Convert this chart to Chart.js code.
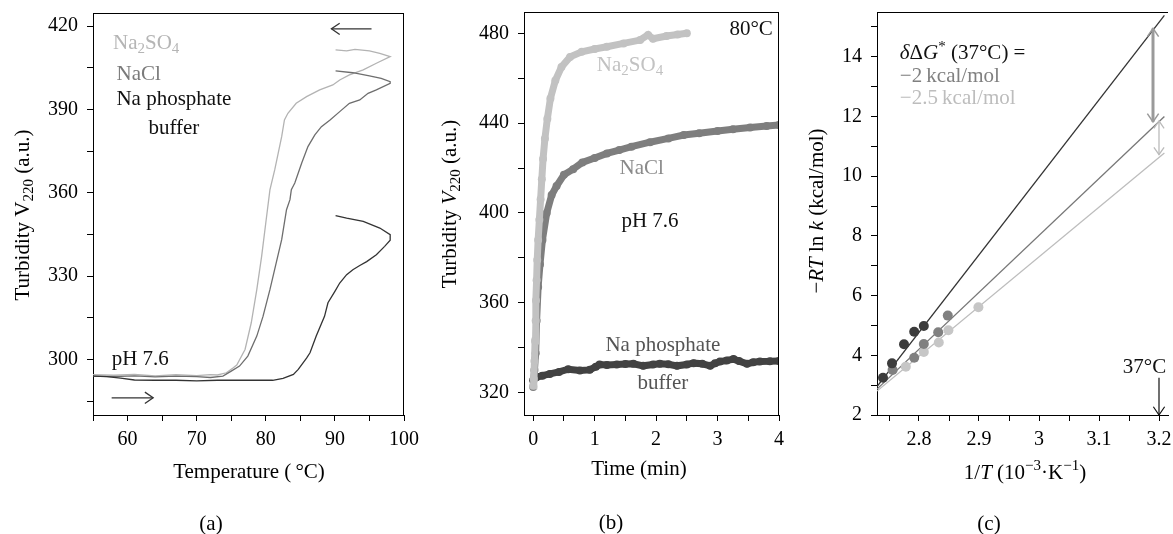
<!DOCTYPE html>
<html>
<head>
<meta charset="utf-8">
<script src="https://cdn.jsdelivr.net/npm/chart.js@4.4.1/dist/chart.umd.min.js"></script>
<style>
  body { margin: 0; background: #fff; width: 1173px; height: 534px; overflow: hidden; position: relative; }
  canvas { position: absolute; top: 0; }
  #chartA { left: 0; }
  #chartB { left: 420px; }
  #chartC { left: 790px; }
</style>
</head>
<body>
<canvas id="chartA" width="420" height="534"></canvas>
<canvas id="chartB" width="370" height="534"></canvas>
<canvas id="chartC" width="383" height="534"></canvas>
<script>
// -- (a) turbidity while heating to 98 C and cooling back
var tempSO4 = [55, 58, 61, 64, 67, 70, 72, 73, 74.3, 75.3, 75.8, 77.0, 77.9, 78.7, 79.4, 80.0, 80.6, 81.3, 81.8, 82.3, 82.7, 83.2, 84.4, 85.9, 87.8, 89.7, 90.7, 92.1, 94.1, 96.0, 98.0, 96.5, 95.0, 92.9, 91.7, 90.1];
var turbSO4 = [294.5, 294.3, 294.6, 294.1, 294.5, 294.2, 294.5, 294.4, 295.2, 297.0, 298.0, 303.6, 313.2, 325.1, 337.1, 349.1, 361.0, 368.3, 374.3, 380.2, 386.2, 388.6, 392.2, 394.6, 397.0, 398.8, 400.6, 402.4, 404.2, 406.6, 409.0, 410.2, 411.1, 411.6, 411.1, 411.4];

var tempCl = [55, 58, 61, 64, 67, 70, 72, 73.8, 75.0, 76.2, 77.4, 78.7, 79.6, 80.6, 81.5, 82.3, 83.0, 83.5, 83.7, 84.2, 85.2, 86.1, 87.1, 88.05, 89.3, 90.7, 92.1, 93.6, 94.8, 96.0, 98.0, 98.0, 96.7, 95.0, 92.6, 90.1];
var turbCl = [294.0, 293.8, 294.1, 293.7, 294.0, 293.8, 293.5, 294.0, 295.8, 297.6, 301.2, 308.4, 315.5, 325.1, 334.7, 343.1, 353.9, 357.5, 361.1, 363.5, 370.7, 376.6, 380.8, 383.8, 386.2, 389.2, 392.2, 393.4, 395.8, 397.0, 399.4, 400.0, 401.2, 402.1, 403.2, 403.9];

var tempPi = [55, 57, 59, 61, 64, 67, 70, 73, 76, 79, 81, 82.5, 84, 84.7, 85.9, 86.4, 87.3, 88.5, 89.0, 90.0, 90.7, 91.7, 92.6, 93.6, 94.6, 96.0, 97.2, 98.0, 98.0, 96.5, 94.1, 91.7, 90.1];
var turbPi = [294.0, 293.8, 293.3, 292.6, 292.5, 292.5, 292.3, 292.5, 292.5, 292.5, 292.5, 293.2, 294.6, 296.4, 300.5, 302.4, 308.4, 315.5, 320.4, 324.5, 327.5, 330.5, 332.3, 333.8, 335.2, 337.7, 340.7, 342.9, 344.9, 347.3, 349.7, 350.9, 351.8];

// -- (b) turbidity vs time at 80 C
var timeSO4 = [0.00, 0.01, 0.02, 0.03, 0.04, 0.045, 0.055, 0.065, 0.08, 0.10, 0.12, 0.14, 0.16, 0.19, 0.23, 0.28, 0.36, 0.46, 0.60, 0.79, 1.00, 1.20, 1.47, 1.74, 1.87, 1.95, 2.17, 2.35, 2.50];
var kinSO4 = [323, 326, 334, 343, 352, 361, 370, 379, 388, 397, 406, 415, 424, 433, 442, 451, 459, 465, 469.5, 471.8, 473, 474, 475.5, 477, 479.3, 477.6, 478.8, 479.5, 480];

var timeCl = [0.00, 0.02, 0.04, 0.055, 0.08, 0.11, 0.15, 0.22, 0.30, 0.38, 0.50, 0.65, 0.80, 1.00, 1.20, 1.40, 1.60, 1.90, 2.20, 2.45, 2.70, 3.00, 3.25, 3.53, 3.80, 4.00];
var kinCl = [322.5, 330, 337.5, 352, 367, 377, 388, 400, 408, 412, 417, 419.5, 422.5, 424.5, 426.5, 428, 429.5, 431.5, 433.2, 434.7, 435.5, 436.5, 437.3, 438.1, 438.7, 439.2];

var timePi = [0.00, 0.05, 0.15, 0.27, 0.42, 0.57, 0.76, 0.92, 1.02, 1.08, 1.20, 1.36, 1.50, 1.63, 1.79, 1.95, 2.06, 2.20, 2.34, 2.50, 2.61, 2.75, 2.88, 2.96, 3.04, 3.15, 3.26, 3.35, 3.48, 3.58, 3.69, 3.85, 4.00];
var kinPi = [325.5, 326.8, 327.5, 328.3, 329.2, 330.4, 329.8, 330.1, 331.5, 332.5, 332.3, 332.5, 332.7, 332.8, 331.9, 332.5, 332.8, 332.6, 331.9, 332.5, 333.1, 332.8, 331.9, 333.0, 333.8, 334.3, 334.9, 334.0, 332.8, 333.5, 333.8, 333.9, 334.1];

// -- (c) -RT ln k vs 1/T, with the fitted lines out to 37 C
var invTPi = [2.740, 2.755, 2.775, 2.792, 2.808];
var rtPi = [3.25, 3.73, 4.37, 4.79, 4.98];
var invTCl = [2.756, 2.792, 2.808, 2.832, 2.848];
var rtCl = [3.51, 3.92, 4.38, 4.77, 5.33];
var invTSO4 = [2.778, 2.808, 2.833, 2.849, 2.899];
var rtSO4 = [3.62, 4.11, 4.43, 4.84, 5.61];
var fitX = [2.73, 3.209];
var fitPi = [2.95, 15.39];
var fitCl = [2.87, 12.0];
var fitSO4 = [2.8, 10.78];

var FONT = "'Liberation Serif', 'Times New Roman', serif";
var SIZE = 20;     // tick labels
var TEXT = 21;     // titles and notes

function xy(xs, ys) {
  return xs.map(function (x, i) { return {x: x, y: ys[i]}; });
}

// parts: [text, style] where style has i = italic, b = subscript, p = superscript
function fontFor(st) {
  var sz = /[bp]/.test(st) ? 15 : TEXT;
  return (st.indexOf('i') >= 0 ? 'italic ' : '') + sz + 'px ' + FONT;
}
function drawRich(ctx, parts, x, y, align, color, rot) {
  ctx.save();
  ctx.translate(x, y);
  if (rot) ctx.rotate(rot);
  var w = 0;
  parts.forEach(function (p) { ctx.font = fontFor(p[1] || ''); w += ctx.measureText(p[0]).width; });
  var cx = align === 'left' ? 0 : align === 'right' ? -w : -w / 2;
  ctx.textBaseline = 'middle';
  ctx.textAlign = 'left';
  ctx.fillStyle = color;
  parts.forEach(function (p) {
    var st = p[1] || '';
    ctx.font = fontFor(st);
    var dy = st.indexOf('b') >= 0 ? 6 : st.indexOf('p') >= 0 ? -7 : 0;
    ctx.fillText(p[0], cx, dy);
    cx += ctx.measureText(p[0]).width;
  });
  ctx.restore();
}

function arrow(ctx, x1, y1, x2, y2, o) {
  ctx.strokeStyle = o.color;
  ctx.lineWidth = o.width;
  ctx.beginPath(); ctx.moveTo(x1, y1); ctx.lineTo(x2, y2); ctx.stroke();
  var heads = o.both ? [[x2, y2, x1, y1], [x1, y1, x2, y2]] : [[x1, y1, x2, y2]];
  ctx.lineWidth = o.headWidth || o.width;
  heads.forEach(function (h) {
    var ang = Math.atan2(h[3] - h[1], h[2] - h[0]), L = o.head || 9;
    ctx.beginPath();
    ctx.moveTo(h[2] - L * Math.cos(ang - 0.6), h[3] - L * Math.sin(ang - 0.6));
    ctx.lineTo(h[2], h[3]);
    ctx.lineTo(h[2] - L * Math.cos(ang + 0.6), h[3] - L * Math.sin(ang + 0.6));
    ctx.stroke();
  });
}

function decor(spec) {
  return {
    id: 'decor',
    afterDraw: function (chart) {
      var ctx = chart.ctx, a = chart.chartArea, sx = chart.scales.x, sy = chart.scales.y;
      ctx.save();
      ctx.strokeStyle = '#000';
      ctx.lineWidth = 1;
      ctx.beginPath();
      if (spec.frame.indexOf('top') >= 0) { ctx.moveTo(a.left, a.top + 0.5); ctx.lineTo(a.right, a.top + 0.5); }
      if (spec.frame.indexOf('right') >= 0) { ctx.moveTo(a.right - 0.5, a.top); ctx.lineTo(a.right - 0.5, a.bottom); }
      ctx.stroke();
      (spec.arrows || []).forEach(function (ar) {
        arrow(ctx, sx.getPixelForValue(ar.from[0]), sy.getPixelForValue(ar.from[1]),
          sx.getPixelForValue(ar.to[0]), sy.getPixelForValue(ar.to[1]), ar);
      });
      (spec.notes || []).forEach(function (n) {
        drawRich(ctx, n.parts, sx.getPixelForValue(n.at[0]), sy.getPixelForValue(n.at[1]), n.align, n.color, 0);
      });
      (spec.titles || []).forEach(function (t) {
        drawRich(ctx, t.parts, t.pos[0], t.pos[1], 'center', '#000', t.rot || 0);
      });
      ctx.restore();
    }
  };
}

function axis(min, max, step, label, size, horiz, pad) {
  return {
    type: 'linear', min: min, max: max,
    border: {display: true, color: '#000', width: 1},
    grid: {drawOnChartArea: false, drawTicks: true, tickLength: 6, color: '#000'},
    ticks: {
      stepSize: step, autoSkip: false, maxRotation: 0, includeBounds: false,
      padding: pad, color: '#000', font: {family: FONT, size: SIZE},
      callback: label
    },
    afterFit: function (s) {
      if (horiz) { s.height = size; s.paddingLeft = 0; s.paddingRight = 0; }
      else { s.width = size; s.paddingTop = 0; s.paddingBottom = 0; }
    }
  };
}

function options(xAxis, yAxis, top, right) {
  return {
    responsive: false, animation: false, events: [],
    layout: {padding: {left: 0, top: top, right: right, bottom: 0}},
    plugins: {legend: {display: false}, tooltip: {enabled: false}},
    scales: {x: xAxis, y: yAxis}
  };
}

function trace(xs, ys, color) {
  return {data: xy(xs, ys), showLine: true, borderColor: color, borderWidth: 1.3, pointRadius: 0, tension: 0};
}
function band(xs, ys, color) {
  return {data: xy(xs, ys), showLine: true, borderColor: color, borderWidth: 7, pointRadius: 4,
    pointBorderWidth: 0, pointBackgroundColor: color, tension: 0};
}
function dots(xs, ys, color) {
  return {data: xy(xs, ys), showLine: false, pointRadius: 5, pointBorderWidth: 0, pointBackgroundColor: color};
}

var sub = 'b', it = 'i', sup = 'p';
var turbTitle = function (italicV) {
  return [['Turbidity '], ['V', italicV ? it : ''], ['220', sub], [' (a.u.)']];
};

// (a)
new Chart(document.getElementById('chartA'), {
  type: 'scatter',
  data: {datasets: [
    trace(tempPi, turbPi, '#333333'),
    trace(tempCl, turbCl, '#6e6e6e'),
    trace(tempSO4, turbSO4, '#b3b3b3')
  ]},
  options: options(
    axis(55, 100, 5, function (v) { return v % 10 === 0 ? v : ''; }, 119, true, 7),
    axis(280, 424.7, 15, function (v) { return v % 30 === 0 ? v : ''; }, 93, false, 9),
    13, 16),
  plugins: [decor({
    frame: ['top', 'right'],
    arrows: [
      {from: [95.3, 419], to: [89.5, 419], color: '#333', width: 1.3, head: 10},
      {from: [57.7, 286.2], to: [63.7, 286.2], color: '#333', width: 1.3, head: 10}
    ],
    notes: [
      {at: [57.9, 413.9], parts: [['Na'], ['2', sub], ['SO'], ['4', sub]], align: 'left', color: '#b5b5b5'},
      {at: [58.4, 402.4], parts: [['NaCl']], align: 'left', color: '#7a7a7a'},
      {at: [66.7, 393.4], parts: [['Na phosphate']], align: 'center', color: '#111'},
      {at: [66.7, 383.3], parts: [['buffer']], align: 'center', color: '#111'},
      {at: [57.7, 300], parts: [['pH 7.6']], align: 'left', color: '#111'}
    ],
    titles: [
      {parts: turbTitle(false), pos: [23, 215], rot: -Math.PI / 2},
      {parts: [['Temperature (\u2009°C)']], pos: [249, 472]},
      {parts: [['(a)']], pos: [211, 524]}
    ]
  })]
});

// (b)
new Chart(document.getElementById('chartB'), {
  type: 'scatter',
  data: {datasets: [
    band(timeSO4, kinSO4, '#c2c2c2'),
    band(timeCl, kinCl, '#7e7e7e'),
    band(timePi, kinPi, '#424242')
  ]},
  options: options(
    axis(-0.15, 4, 0.5, function (v) { return Number.isInteger(v) ? v : ''; }, 119, true, 7),
    axis(310, 489.5, 20, function (v) { return v % 40 === 0 ? v : ''; }, 104, false, 9),
    12, 11),
  plugins: [decor({
    frame: ['top', 'right'],
    notes: [
      {at: [3.90, 481.5], parts: [['80°C']], align: 'right', color: '#111'},
      {at: [1.575, 465.9], parts: [['Na'], ['2', sub], ['SO'], ['4', sub]], align: 'center', color: '#c2c2c2'},
      {at: [1.765, 419.9], parts: [['NaCl']], align: 'center', color: '#8a8a8a'},
      {at: [1.90, 396.1], parts: [['pH 7.6']], align: 'center', color: '#111'},
      {at: [2.11, 340.8], parts: [['Na phosphate']], align: 'center', color: '#555'},
      {at: [2.11, 323.9], parts: [['buffer']], align: 'center', color: '#555'}
    ],
    titles: [
      {parts: turbTitle(true), pos: [30, 204], rot: -Math.PI / 2},
      {parts: [['Time (min)']], pos: [219, 469]},
      {parts: [['(b)']], pos: [191, 523]}
    ]
  })]
});

// (c)
new Chart(document.getElementById('chartC'), {
  type: 'scatter',
  data: {datasets: [
    dots(invTPi, rtPi, '#3c3c3c'),
    dots(invTCl, rtCl, '#808080'),
    dots(invTSO4, rtSO4, '#c6c6c6'),
    trace(fitX, fitPi, '#333333'),
    trace(fitX, fitCl, '#777777'),
    trace(fitX, fitSO4, '#bdbdbd')
  ]},
  options: options(
    axis(2.73, 3.215, 0.05, function (v) {
      return Math.round(v * 100) % 10 === 0 ? String(+v.toFixed(1)) : '';
    }, 119, true, 7),
    axis(2, 15.5, 1, function (v) { return v % 2 === 0 ? v : ''; }, 87, false, 9),
    12, 1),
  plugins: [decor({
    frame: ['top'],
    arrows: [
      {from: [3.19, 14.95], to: [3.19, 11.82], color: '#9a9a9a', width: 3, headWidth: 1.5, head: 10, both: true},
      {from: [3.2, 11.85], to: [3.2, 10.72], color: '#bbbbbb', width: 1.3, head: 9, both: true},
      {from: [3.2, 3.25], to: [3.2, 2.0], color: '#111', width: 1.2, head: 10}
    ],
    notes: [
      {at: [2.768, 14.1], parts: [['δ', it], ['Δ'], ['G', it], ['*', sup], [' (37°C) =']], align: 'left', color: '#111'},
      {at: [2.768, 13.35], parts: [['−2\u2009kcal/mol']], align: 'left', color: '#808080'},
      {at: [2.768, 12.6], parts: [['−2.5\u2009kcal/mol']], align: 'left', color: '#bdbdbd'},
      {at: [3.212, 3.6], parts: [['37°C']], align: 'right', color: '#111'}
    ],
    titles: [
      {parts: [['−'], ['RT', it], [' ln '], ['k', it], [' (kcal/mol)']], pos: [27, 211], rot: -Math.PI / 2},
      {parts: [['1/'], ['T', it], [' (10'], ['−3', sup], ['·K'], ['−1', sup], [')']], pos: [235, 473]},
      {parts: [['(c)']], pos: [199, 524]}
    ]
  })]
});
</script>
</body>
</html>
